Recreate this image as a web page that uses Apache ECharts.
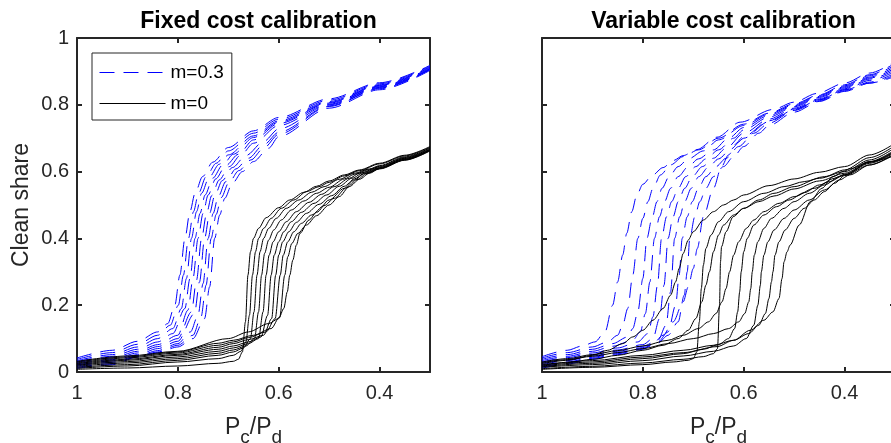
<!DOCTYPE html>
<html>
<head>
<meta charset="utf-8">
<script src="https://cdn.jsdelivr.net/npm/echarts@6/dist/echarts.min.js"></script>
<style>html,body{margin:0;padding:0;background:#fff}#c{width:891px;height:443px}</style>
</head>
<body>
<div id="c"></div>
<script>
const xTicks = [1, 0.8, 0.6, 0.4];
const yTicks = [0, 0.2, 0.4, 0.6, 0.8, 1];
const legendNames = ['m=0.3', 'm=0'];
const panelTitles = ['Fixed cost calibration', 'Variable cost calibration'];

// Fixed cost calibration, m=0.3 (blue dashed), [Pc/Pd, clean share]
const fixedM03 = [
 [[1,.042],[.93,.065],[.88,.092],[.84,.12],[.82,.145],[.806,.2],[.796,.29],[.786,.40],[.776,.48],[.766,.535],[.751,.585],[.731,.628],[.70,.672],[.65,.722],[.6,.762],[.5,.818],[.4,.866],[.3,.918]],
 [[1,.038],[.93,.058],[.88,.083],[.84,.11],[.815,.14],[.799,.2],[.789,.29],[.779,.40],[.769,.48],[.759,.535],[.744,.585],[.724,.625],[.70,.662],[.65,.715],[.6,.757],[.5,.814],[.4,.863],[.3,.916]],
 [[1,.034],[.93,.052],[.88,.075],[.84,.1],[.81,.13],[.793,.19],[.783,.28],[.773,.40],[.763,.48],[.753,.535],[.738,.583],[.718,.622],[.70,.65],[.65,.707],[.6,.752],[.5,.81],[.4,.86],[.3,.914]],
 [[1,.031],[.93,.047],[.88,.068],[.84,.09],[.81,.115],[.786,.19],[.776,.28],[.766,.40],[.756,.475],[.746,.53],[.731,.58],[.711,.62],[.69,.652],[.65,.702],[.6,.748],[.5,.807],[.4,.858],[.3,.912]],
 [[1,.028],[.93,.042],[.88,.062],[.84,.082],[.80,.11],[.78,.185],[.77,.28],[.76,.40],[.75,.475],[.74,.53],[.725,.578],[.705,.618],[.68,.652],[.65,.695],[.6,.744],[.5,.805],[.4,.856],[.3,.91]],
 [[1,.024],[.93,.037],[.88,.057],[.84,.076],[.80,.1],[.773,.18],[.763,.275],[.753,.40],[.743,.475],[.733,.528],[.718,.575],[.698,.615],[.675,.65],[.65,.685],[.6,.738],[.5,.802],[.4,.854],[.3,.908]],
 [[1,.021],[.93,.033],[.88,.052],[.84,.07],[.80,.092],[.767,.175],[.757,.27],[.747,.40],[.737,.475],[.727,.528],[.712,.573],[.692,.612],[.665,.648],[.63,.69],[.6,.728],[.5,.8],[.4,.852],[.3,.907]],
 [[1,.018],[.93,.029],[.88,.048],[.84,.064],[.80,.085],[.775,.12],[.76,.17],[.75,.265],[.74,.40],[.73,.475],[.72,.525],[.705,.57],[.685,.608],[.66,.64],[.63,.68],[.6,.718],[.5,.797],[.4,.85],[.3,.906]],
 [[1,.014],[.93,.025],[.88,.046],[.84,.06],[.80,.08],[.77,.11],[.754,.165],[.744,.26],[.734,.40],[.724,.472],[.714,.522],[.699,.567],[.679,.603],[.655,.635],[.63,.67],[.6,.712],[.5,.795],[.4,.848],[.3,.905]],
 [[1,.011],[.93,.022],[.88,.045],[.84,.058],[.80,.075],[.77,.1],[.747,.16],[.737,.255],[.727,.40],[.717,.47],[.707,.52],[.692,.565],[.672,.6],[.65,.63],[.62,.67],[.6,.705],[.5,.79],[.4,.845],[.3,.903]]
];

// Fixed cost calibration, m=0 (black solid)
const fixedM0 = [
 [[1,.008],[.9,.012],[.8,.018],[.72,.026],[.69,.032],[.68,.038],[.672,.06],[.666,.15],[.661,.29],[.656,.36],[.65,.4],[.64,.43],[.625,.462],[.6,.492],[.578,.515],[.55,.538],[.525,.556],[.5,.572],[.47,.59],[.44,.605],[.4,.625],[.35,.649],[.3,.675]],
 [[1,.011],[.9,.018],[.8,.03],[.72,.04],[.69,.05],[.675,.062],[.665,.09],[.658,.17],[.652,.29],[.646,.36],[.64,.4],[.63,.43],[.615,.46],[.595,.49],[.57,.515],[.545,.54],[.52,.555],[.5,.568],[.47,.587],[.44,.603],[.4,.623],[.35,.647],[.3,.673]],
 [[1,.014],[.9,.022],[.8,.035],[.72,.05],[.69,.06],[.67,.072],[.656,.1],[.649,.18],[.643,.29],[.637,.36],[.63,.4],[.62,.43],[.605,.46],[.585,.49],[.56,.515],[.535,.538],[.51,.555],[.48,.577],[.45,.595],[.42,.608],[.4,.618],[.35,.644],[.3,.671]],
 [[1,.017],[.9,.027],[.8,.04],[.72,.056],[.69,.066],[.665,.078],[.648,.1],[.64,.18],[.634,.29],[.628,.355],[.62,.395],[.61,.425],[.595,.455],[.575,.485],[.55,.512],[.525,.535],[.5,.553],[.47,.578],[.45,.592],[.42,.606],[.4,.616],[.35,.642],[.3,.669]],
 [[1,.02],[.9,.031],[.8,.045],[.72,.062],[.69,.072],[.66,.085],[.64,.1],[.631,.18],[.625,.29],[.619,.35],[.611,.39],[.6,.42],[.585,.45],[.565,.48],[.54,.508],[.515,.532],[.49,.555],[.46,.58],[.44,.595],[.4,.614],[.35,.64],[.3,.667]],
 [[1,.022],[.9,.035],[.8,.05],[.72,.068],[.69,.078],[.66,.09],[.635,.105],[.622,.17],[.615,.29],[.609,.35],[.6,.39],[.59,.42],[.575,.45],[.555,.478],[.53,.505],[.505,.53],[.48,.556],[.455,.58],[.43,.598],[.4,.612],[.35,.639],[.3,.666]],
 [[1,.025],[.9,.038],[.8,.053],[.72,.074],[.69,.085],[.66,.097],[.63,.11],[.614,.16],[.606,.29],[.6,.35],[.592,.39],[.58,.42],[.565,.448],[.545,.475],[.52,.502],[.495,.528],[.47,.556],[.45,.578],[.43,.595],[.4,.611],[.35,.637],[.3,.665]],
 [[1,.027],[.9,.042],[.8,.057],[.72,.08],[.69,.09],[.66,.103],[.625,.12],[.607,.16],[.597,.29],[.591,.35],[.582,.39],[.57,.42],[.555,.445],[.535,.47],[.51,.498],[.49,.52],[.465,.552],[.445,.576],[.425,.594],[.4,.61],[.35,.636],[.3,.664]],
 [[1,.03],[.9,.045],[.8,.06],[.72,.086],[.69,.095],[.65,.11],[.615,.13],[.598,.165],[.588,.29],[.582,.345],[.574,.385],[.562,.415],[.545,.44],[.525,.468],[.5,.5],[.48,.525],[.46,.555],[.44,.577],[.42,.595],[.4,.609],[.35,.635],[.3,.663]],
 [[1,.032],[.9,.048],[.8,.062],[.7,.1],[.66,.12],[.62,.145],[.6,.16],[.59,.19],[.583,.24],[.578,.29],[.572,.335],[.565,.38],[.558,.415],[.54,.455],[.525,.478],[.5,.515],[.47,.55],[.45,.575],[.43,.594],[.4,.608],[.35,.634],[.3,.662]]
];

// Variable cost calibration, m=0.3 (blue dashed)
const variableM03 = [
 [[1,.046],[.95,.065],[.92,.078],[.895,.09],[.875,.12],[.86,.2],[.85,.27],[.84,.35],[.832,.415],[.822,.48],[.812,.53],[.8,.562],[.782,.588],[.76,.612],[.74,.633],[.72,.648],[.693,.666],[.653,.703],[.607,.748],[.542,.786],[.5,.808],[.455,.834],[.4,.865],[.35,.895],[.3,.93]],
 [[1,.042],[.95,.058],[.9,.075],[.87,.09],[.85,.11],[.84,.14],[.83,.19],[.82,.29],[.81,.4],[.8,.46],[.79,.51],[.78,.55],[.765,.59],[.745,.62],[.72,.645],[.69,.665],[.65,.7],[.6,.742],[.55,.775],[.5,.803],[.45,.83],[.4,.86],[.35,.89],[.3,.925]],
 [[1,.038],[.95,.052],[.9,.068],[.86,.085],[.83,.105],[.82,.13],[.81,.18],[.80,.28],[.792,.4],[.782,.46],[.772,.51],[.762,.55],[.748,.585],[.73,.615],[.71,.638],[.68,.662],[.65,.695],[.6,.738],[.55,.772],[.5,.8],[.45,.828],[.4,.857],[.35,.887],[.3,.92]],
 [[1,.034],[.95,.047],[.9,.062],[.86,.077],[.82,.095],[.805,.12],[.795,.175],[.786,.27],[.777,.4],[.767,.465],[.757,.51],[.745,.55],[.73,.585],[.71,.615],[.69,.638],[.66,.665],[.63,.7],[.6,.732],[.55,.768],[.5,.797],[.45,.825],[.4,.854],[.35,.883],[.3,.915]],
 [[1,.03],[.95,.043],[.9,.057],[.85,.072],[.81,.09],[.79,.115],[.78,.165],[.771,.26],[.763,.4],[.753,.465],[.743,.51],[.73,.55],[.715,.585],[.695,.615],[.675,.638],[.65,.665],[.62,.7],[.6,.725],[.55,.763],[.5,.794],[.45,.822],[.4,.851],[.35,.88],[.3,.91]],
 [[1,.026],[.95,.038],[.9,.052],[.85,.066],[.8,.082],[.78,.1],[.767,.16],[.758,.26],[.75,.4],[.74,.465],[.73,.51],[.717,.55],[.702,.585],[.682,.615],[.66,.64],[.635,.67],[.6,.715],[.55,.757],[.5,.79],[.45,.818],[.4,.848],[.35,.877],[.3,.905]],
 [[1,.022],[.95,.034],[.9,.048],[.85,.062],[.8,.077],[.77,.095],[.754,.14],[.745,.24],[.737,.4],[.727,.465],[.717,.51],[.704,.55],[.689,.585],[.669,.615],[.65,.638],[.625,.668],[.6,.705],[.55,.752],[.5,.787],[.45,.815],[.4,.845],[.35,.873],[.3,.90]],
 [[1,.018],[.95,.03],[.9,.044],[.85,.058],[.8,.073],[.77,.09],[.75,.12],[.735,.2],[.728,.29],[.722,.4],[.712,.465],[.702,.51],[.69,.55],[.675,.585],[.655,.615],[.635,.64],[.61,.675],[.58,.715],[.55,.745],[.5,.783],[.45,.812],[.4,.842],[.35,.868],[.3,.895]],
 [[1,.014],[.95,.027],[.9,.041],[.85,.055],[.8,.07],[.77,.087],[.75,.11],[.73,.15],[.718,.23],[.712,.3],[.707,.4],[.697,.465],[.687,.51],[.675,.55],[.66,.585],[.64,.615],[.62,.645],[.6,.675],[.57,.715],[.55,.738],[.5,.778],[.45,.81],[.4,.84],[.35,.865],[.3,.89]],
 [[1,.011],[.95,.024],[.9,.038],[.85,.052],[.8,.068],[.78,.085],[.76,.11],[.74,.15],[.72,.21],[.71,.255],[.70,.31],[.692,.37],[.68,.465],[.66,.55],[.644,.615],[.63,.65],[.614,.685],[.6,.70],[.55,.75],[.5,.785],[.45,.815],[.4,.845],[.35,.865],[.3,.885]]
];

// Variable cost calibration, m=0 (black solid)
const variableM0 = [
 [[1,.025],[.95,.035],[.9,.05],[.87,.065],[.84,.085],[.82,.105],[.8,.125],[.78,.155],[.76,.19],[.745,.23],[.735,.27],[.728,.31],[.72,.355],[.71,.395],[.70,.42],[.68,.455],[.66,.48],[.64,.5],[.62,.515],[.6,.53],[.55,.558],[.5,.578],[.45,.598],[.4,.615],[.35,.65],[.3,.685]],
 [[1,.008],[.9,.014],[.8,.022],[.74,.03],[.71,.035],[.70,.04],[.693,.06],[.688,.15],[.684,.25],[.68,.32],[.675,.37],[.665,.41],[.65,.45],[.63,.48],[.6,.51],[.56,.535],[.52,.555],[.48,.57],[.44,.585],[.4,.605],[.35,.642],[.3,.678]],
 [[1,.02],[.95,.028],[.9,.038],[.85,.05],[.8,.065],[.76,.08],[.73,.1],[.71,.125],[.695,.16],[.683,.21],[.675,.26],[.668,.3],[.66,.36],[.65,.41],[.64,.44],[.62,.47],[.6,.49],[.57,.515],[.54,.535],[.5,.555],[.45,.58],[.4,.6],[.35,.635],[.3,.672]],
 [[1,.01],[.9,.017],[.8,.027],[.72,.038],[.68,.046],[.66,.055],[.652,.07],[.648,.2],[.646,.33],[.644,.375],[.635,.42],[.621,.465],[.6,.49],[.57,.51],[.54,.527],[.5,.548],[.45,.572],[.4,.595],[.35,.63],[.3,.665]],
 [[1,.03],[.95,.04],[.9,.052],[.85,.064],[.8,.078],[.75,.095],[.72,.11],[.69,.13],[.67,.15],[.655,.175],[.643,.21],[.635,.25],[.628,.3],[.62,.35],[.61,.39],[.595,.43],[.58,.455],[.56,.48],[.53,.505],[.5,.525],[.46,.55],[.43,.57],[.4,.59],[.35,.628],[.3,.66]],
 [[1,.016],[.9,.026],[.8,.04],[.72,.055],[.68,.068],[.65,.082],[.63,.1],[.618,.13],[.612,.18],[.608,.24],[.605,.3],[.6,.36],[.593,.4],[.58,.44],[.56,.47],[.535,.495],[.51,.515],[.48,.537],[.45,.56],[.42,.58],[.4,.592],[.35,.628],[.3,.662]],
 [[1,.028],[.95,.037],[.9,.047],[.85,.058],[.8,.07],[.75,.085],[.7,.1],[.66,.115],[.63,.13],[.61,.15],[.598,.175],[.59,.21],[.586,.25],[.583,.3],[.579,.35],[.572,.39],[.56,.43],[.545,.46],[.52,.49],[.5,.51],[.47,.535],[.44,.56],[.41,.585],[.4,.59],[.35,.625],[.3,.658]],
 [[1,.014],[.9,.022],[.8,.034],[.72,.048],[.66,.062],[.62,.078],[.595,.1],[.58,.14],[.572,.2],[.567,.26],[.565,.3],[.56,.35],[.552,.39],[.54,.425],[.52,.46],[.5,.485],[.47,.515],[.44,.545],[.41,.575],[.39,.59],[.35,.62],[.3,.655]],
 [[1,.022],[.9,.034],[.8,.05],[.72,.065],[.66,.08],[.62,.095],[.59,.115],[.57,.14],[.557,.175],[.55,.22],[.545,.27],[.542,.3],[.538,.35],[.53,.39],[.518,.425],[.5,.46],[.48,.49],[.46,.515],[.44,.54],[.42,.565],[.4,.588],[.35,.62],[.3,.652]],
 [[1,.018],[.9,.03],[.8,.045],[.72,.058],[.653,.076],[.62,.095],[.587,.125],[.56,.155],[.542,.18],[.53,.22],[.524,.28],[.52,.33],[.514,.36],[.508,.38],[.49,.44],[.468,.51],[.445,.55],[.423,.585],[.4,.602],[.39,.608],[.35,.63],[.3,.648]]
];

const FONT = "'Liberation Sans', Arial, Helvetica, sans-serif";
const AX = '#262626';
const gridLefts = [77, 542];

function xAxes(g) {
  const base = {
    gridIndex: g, type: 'value', min: 0.3, max: 1, inverse: true,
    axisLine: { show: true, onZero: false, lineStyle: { color: AX, width: 2 } },
    axisTick: { show: true, inside: true, length: 5, customValues: xTicks, lineStyle: { color: AX, width: 2 } },
    splitLine: { show: false }
  };
  return [
    Object.assign({}, base, {
      position: 'bottom',
      axisLabel: { show: true, customValues: xTicks, formatter: v => String(v), fontSize: 20, color: AX, fontFamily: FONT, margin: 11 },
      name: '{a|P}{s|c}{a|/P}{s|d}', nameLocation: 'middle', nameGap: 28,
      nameTextStyle: { color: AX, fontFamily: FONT, rich: {
        a: { fontSize: 23, fontFamily: FONT, color: AX, lineHeight: 24 },
        s: { fontSize: 19, fontFamily: FONT, color: AX, lineHeight: 20, padding: [20, 0, 0, 0] }
      } }
    }),
    Object.assign({}, base, { position: 'top', axisLabel: { show: false } })
  ];
}
function yAxes(g) {
  const base = {
    gridIndex: g, type: 'value', min: 0, max: 1, interval: 0.2,
    axisLine: { show: true, onZero: false, lineStyle: { color: AX, width: 2 } },
    axisTick: { show: true, inside: true, length: 5, lineStyle: { color: AX, width: 2 } },
    splitLine: { show: false }
  };
  const left = Object.assign({}, base, {
    position: 'left',
    axisLabel: { show: g === 0, formatter: v => String(v), fontSize: 20, color: AX, fontFamily: FONT, margin: 8 }
  });
  if (g === 0) Object.assign(left, { name: 'Clean share', nameLocation: 'middle', nameGap: 44,
    nameTextStyle: { fontSize: 23, color: AX, fontFamily: FONT } });
  return [left, Object.assign({}, base, { position: 'right', axisLabel: { show: false } })];
}

const series = [];
function addGroup(curves, panel, name, color, dashed) {
  curves.forEach(c => series.push({
    type: 'line', name: name, xAxisIndex: panel * 2, yAxisIndex: panel * 2,
    data: c, symbol: 'none', showSymbol: false, smooth: 0.3, smoothMonotone: 'x',
    lineStyle: { color: color, width: 1, type: dashed ? [15, 9] : 'solid' },
    itemStyle: { color: color }, emphasis: { disabled: true }, animation: false, silent: true
  }));
}
addGroup(fixedM03, 0, legendNames[0], '#0000ff', true);
addGroup(fixedM0, 0, legendNames[1], '#000000', false);
addGroup(variableM03, 1, legendNames[0], '#0000ff', true);
addGroup(variableM0, 1, legendNames[1], '#000000', false);

const chart = echarts.init(document.getElementById('c'), null, { renderer: 'canvas' });
chart.setOption({
  animation: false,
  backgroundColor: '#fff',
  title: panelTitles.map((t, i) => ({
    text: t, left: gridLefts[i] + 176.5, top: 5, textAlign: 'center',
    textStyle: { fontSize: 23, fontWeight: 'bold', color: '#000', fontFamily: FONT }
  })),
  grid: gridLefts.map(l => ({ left: l, top: 38, width: 353, height: 334, containLabel: false, outerBoundsMode: 'none' })),
  xAxis: [...xAxes(0), ...xAxes(1)],
  yAxis: [...yAxes(0), ...yAxes(1)],
  legend: {
    data: legendNames, orient: 'vertical', left: 92, top: 53,
    padding: [10, 8, 7, 7], itemWidth: 66, itemHeight: 14, itemGap: 12,
    borderColor: AX, borderWidth: 1, backgroundColor: '#fff', selectedMode: false,
    itemStyle: { opacity: 0 },
    lineStyle: { width: 1 },
    textStyle: { fontSize: 19, color: '#000', fontFamily: FONT }
  },
  series: series
});
</script>
</body>
</html>
